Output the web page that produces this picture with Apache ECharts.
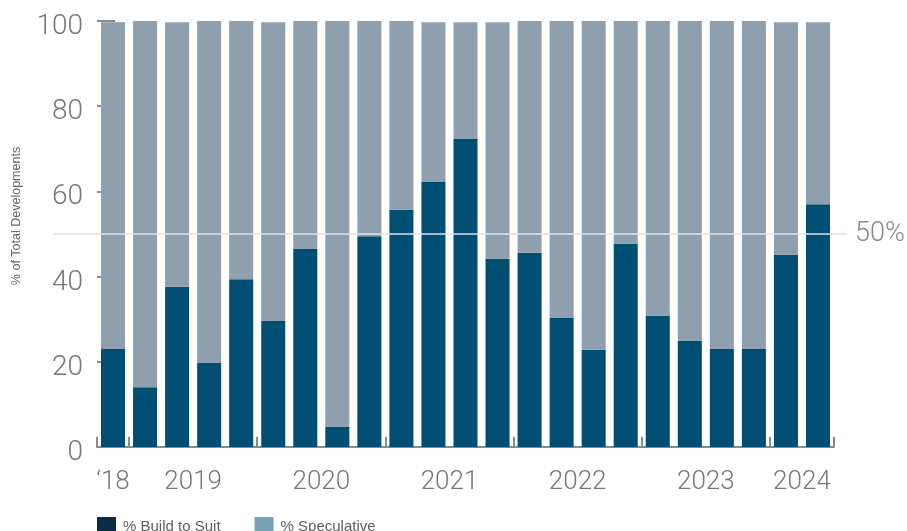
<!DOCTYPE html>
<html>
<head>
<meta charset="utf-8">
<script src="https://cdn.jsdelivr.net/npm/echarts@6/dist/echarts.min.js"></script>
<style>
html,body{margin:0;padding:0;background:#fff;}
#chart{width:907px;height:531px;}
</style>
</head>
<body>
<div id="chart"></div>
<script>
const quarters = ['Q4 2018','Q1 2019','Q2 2019','Q3 2019','Q4 2019','Q1 2020','Q2 2020','Q3 2020','Q4 2020','Q1 2021','Q2 2021','Q3 2021','Q4 2021','Q1 2022','Q2 2022','Q3 2022','Q4 2022','Q1 2023','Q2 2023','Q3 2023','Q4 2023','Q1 2024','Q2 2024'];
const buildToSuit = [23, 14, 37.6, 19.7, 39.4, 29.6, 46.5, 4.7, 49.5, 55.7, 62.3, 72.4, 44.2, 45.6, 30.3, 22.8, 47.7, 30.8, 24.9, 23, 23, 45.1, 57];
const speculative = [76.7, 86, 62.1, 80.3, 60.6, 70.1, 53.5, 95.3, 50.5, 44.3, 37.4, 27.3, 55.5, 54.4, 69.7, 77.2, 52.3, 69.2, 75.1, 77, 77, 54.6, 42.7];
const yearLabels = {'2018':'\u201818','2019':'2019','2020':'2020','2021':'2021','2022':'2022','2023':'2023','2024':'2024'};
const yTicks = [0, 20, 40, 60, 80, 100];
const refValue = 50;

// derive year groups from quarters
const years = quarters.map(q => q.split(' ')[1]);
const boundaries = [0];
const centers = [];
const centerLabel = {};
let start = 0;
for (let i = 1; i <= years.length; i++) {
  if (i === years.length || years[i] !== years[i-1]) {
    boundaries.push(i);
    const c = (start + i) / 2;
    centers.push(c);
    centerLabel[c] = yearLabels[years[start]];
    start = i;
  }
}

const chart = echarts.init(document.getElementById('chart'));
const grey = '#8a8a8a';
const font = 'Roboto, "Liberation Sans", sans-serif';
const narrow = '"Liberation Sans Narrow", "Liberation Sans", sans-serif';
chart.setOption({
  animation: false,
  grid: {left: 97, right: 73, top: 21, bottom: 84},
  legend: {
    left: 97, top: 517, padding: 0, itemWidth: 19, itemHeight: 19, itemGap: 34,
    icon: 'rect',
    textStyle: {fontSize: 15, color: '#606060', fontFamily: narrow, padding: [0,0,0,2]},
    data: [
      {name: '% Build to Suit', itemStyle: {color: '#0a2a45'}},
      {name: '% Speculative', itemStyle: {color: '#79a1b6'}}
    ]
  },
  graphic: [{
    type: 'text', x: 17, y: 216, rotation: Math.PI/2,
    style: {text: '% of Total Developments', fontSize: 12.5, fill: '#666', align: 'center', verticalAlign: 'middle', fontFamily: narrow}
  }],
  xAxis: [{
    type: 'category', data: quarters, boundaryGap: true,
    axisLine: {show: true, lineStyle: {color: grey, width: 2}},
    axisTick: {show: false}, axisLabel: {show: false}
  }, {
    type: 'value', min: 0, max: quarters.length, position: 'bottom',
    axisLine: {show: false},
    splitLine: {show: false},
    axisTick: {show: true, inside: true, length: 10, lineStyle: {color: grey, width: 2}, customValues: boundaries},
    axisLabel: {customValues: centers, formatter: v => centerLabel[v] || '', fontSize: 26, color: '#777', fontFamily: font, fontWeight: 300, margin: 22}
  }],
  yAxis: {
    type: 'value', min: 0, max: 100, interval: 20,
    axisLine: {show: false},
    splitLine: {show: false},
    axisTick: {show: true, inside: true, length: 18, lineStyle: {color: grey, width: 2}},
    axisLabel: {margin: 14,
      formatter: v => yTicks.includes(v) ? '{v|' + v + '}' : '',
      rich: {v: {fontSize: 28, color: '#777', fontFamily: font, fontWeight: 300, padding: [12, 0, 0, 0]}}}
  },
  series: [{
    name: '% Build to Suit', type: 'bar', stack: 'a', data: buildToSuit,
    barWidth: '75%', itemStyle: {color: '#004e72'}
  }, {
    name: '% Speculative', type: 'bar', stack: 'a', data: speculative,
    barWidth: '75%', itemStyle: {color: '#8e9fad'},
    markLine: {
      silent: true, symbol: 'none',
      lineStyle: {color: 'rgba(222,228,236,0.75)', width: 2, type: 'solid'},
      label: {show: true, position: 'end', formatter: refValue + '%', fontSize: 27, color: '#888', fontFamily: font, fontWeight: 300, distance: 8},
      data: [[{yAxis: refValue, x: 53}, {yAxis: refValue, x: 847}]]
    }
  }]
});
</script>
</body>
</html>
